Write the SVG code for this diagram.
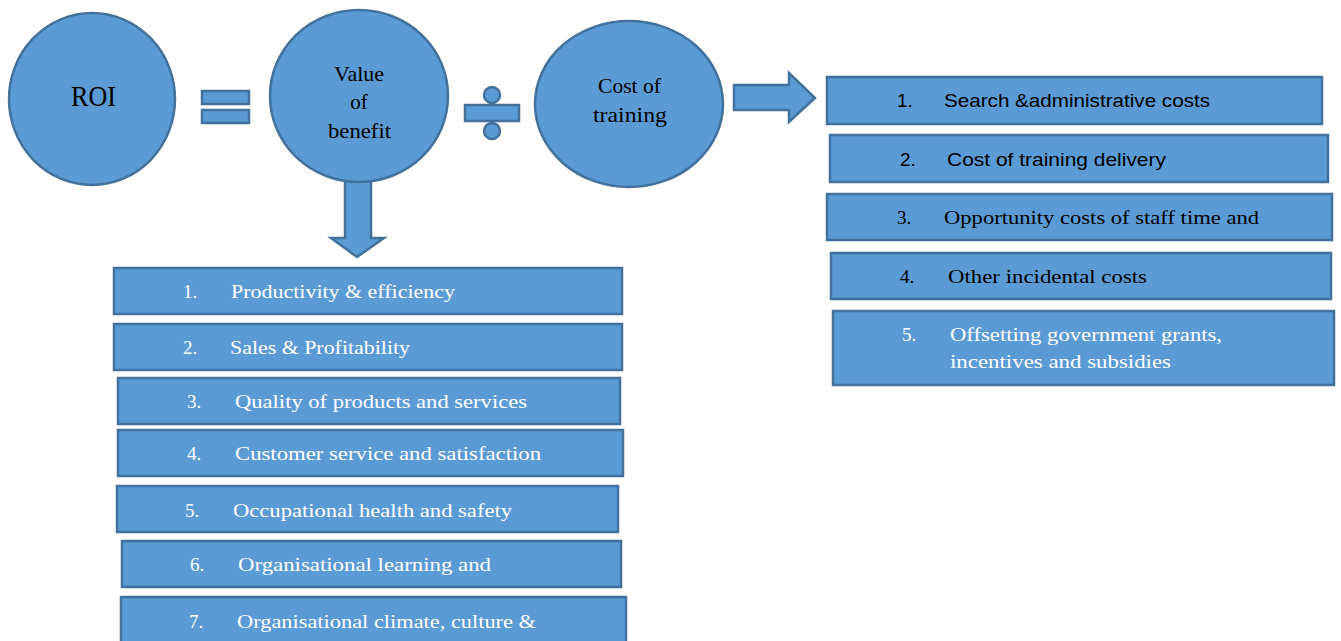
<svg xmlns="http://www.w3.org/2000/svg" width="1341" height="641" viewBox="0 0 1341 641">
<style>
.sh{fill:#5B9BD5;stroke:#41719C;stroke-width:2.5}
.t{font-family:"Liberation Serif","DejaVu Serif",serif;font-size:19px}
.w{fill:#ffffff}
.b{fill:#000000}
.c{font-family:"Liberation Sans Narrow","Liberation Sans",sans-serif;font-size:19px}
</style>
<rect width="1341" height="641" fill="#ffffff"/>
<g id="connectors">
<path class="sh" d="M345,170 L371,170 L371,238 L384,238 L357,257 L331,238 L345,238 Z"/>
<path class="sh" d="M734,85 L789,85 L789,73 L815,98 L789,122 L789,110 L734,110 Z"/>
</g>
<g id="roi">
<ellipse class="sh" cx="92" cy="99" rx="83" ry="86"/>
<text class="t b" x="71" y="106" style="font-size:29px" textLength="45" lengthAdjust="spacingAndGlyphs">ROI</text>
</g>
<g id="equals">
<rect class="sh" x="202" y="91" width="47" height="13"/>
<rect class="sh" x="202" y="110" width="47" height="13"/>
</g>
<g id="value">
<ellipse class="sh" cx="359" cy="96" rx="89" ry="86"/>
<text class="t b" x="334" y="81" style="font-size:21px" textLength="50" lengthAdjust="spacingAndGlyphs">Value</text>
<text class="t b" x="359" y="109" text-anchor="middle" style="font-size:21px">of</text>
<text class="t b" x="328" y="138" style="font-size:21px" textLength="63" lengthAdjust="spacingAndGlyphs">benefit</text>
</g>
<g id="divide">
<rect class="sh" x="465" y="105" width="54" height="16"/>
<circle class="sh" cx="492" cy="95" r="8"/>
<circle class="sh" cx="492" cy="131" r="8"/>
</g>
<g id="cost">
<ellipse class="sh" cx="629" cy="104" rx="94" ry="83"/>
<text class="t b" x="598" y="93" style="font-size:21px" textLength="63" lengthAdjust="spacingAndGlyphs">Cost of</text>
<text class="t b" x="593" y="122" style="font-size:21px" textLength="74" lengthAdjust="spacingAndGlyphs">training</text>
</g>
<g id="benefit1">
<rect class="sh" x="114" y="268" width="508" height="46"/>
<text class="t w" x="183" y="298">1.</text>
<text class="t w" x="231" y="298" textLength="224" lengthAdjust="spacingAndGlyphs">Productivity &amp; efficiency</text>
</g>
<g id="benefit2">
<rect class="sh" x="114" y="324" width="508" height="46"/>
<text class="t w" x="183" y="354">2.</text>
<text class="t w" x="230" y="354" textLength="180" lengthAdjust="spacingAndGlyphs">Sales &amp; Profitability</text>
</g>
<g id="benefit3">
<rect class="sh" x="118" y="378" width="502" height="46"/>
<text class="t w" x="187" y="408">3.</text>
<text class="t w" x="235" y="408" textLength="292" lengthAdjust="spacingAndGlyphs">Quality of products and services</text>
</g>
<g id="benefit4">
<rect class="sh" x="118" y="430" width="505" height="46"/>
<text class="t w" x="187" y="460">4.</text>
<text class="t w" x="235" y="460" textLength="306" lengthAdjust="spacingAndGlyphs">Customer service and satisfaction</text>
</g>
<g id="benefit5">
<rect class="sh" x="117" y="486" width="501" height="46"/>
<text class="t w" x="185" y="517">5.</text>
<text class="t w" x="233" y="517" textLength="279" lengthAdjust="spacingAndGlyphs">Occupational health and safety</text>
</g>
<g id="benefit6">
<rect class="sh" x="122" y="541" width="499" height="46"/>
<text class="t w" x="190" y="571">6.</text>
<text class="t w" x="238" y="571" textLength="253" lengthAdjust="spacingAndGlyphs">Organisational learning and</text>
</g>
<g id="benefit7">
<rect class="sh" x="121" y="597" width="505" height="50"/>
<text class="t w" x="189" y="628">7.</text>
<text class="t w" x="237" y="628" textLength="299" lengthAdjust="spacingAndGlyphs">Organisational climate, culture &amp;</text>
</g>
<g id="cost1">
<rect class="sh" x="827" y="77" width="495" height="47"/>
<text class="c b" x="897" y="107">1.</text>
<text class="c b" x="944" y="107" textLength="266" lengthAdjust="spacingAndGlyphs">Search &amp;administrative costs</text>
</g>
<g id="cost2">
<rect class="sh" x="830" y="135" width="498" height="47"/>
<text class="c b" x="900" y="166">2.</text>
<text class="c b" x="947" y="166" textLength="219" lengthAdjust="spacingAndGlyphs">Cost of training delivery</text>
</g>
<g id="cost3">
<rect class="sh" x="827" y="194" width="505" height="46"/>
<text class="t b" x="897" y="224">3.</text>
<text class="t b" x="944" y="224" textLength="315" lengthAdjust="spacingAndGlyphs">Opportunity costs of staff time and</text>
</g>
<g id="cost4">
<rect class="sh" x="831" y="253" width="500" height="46"/>
<text class="t b" x="900" y="283">4.</text>
<text class="t b" x="948" y="283" textLength="199" lengthAdjust="spacingAndGlyphs">Other incidental costs</text>
</g>
<g id="cost5">
<rect class="sh" x="833" y="311" width="501" height="74"/>
<text class="t w" x="902" y="341">5.</text>
<text class="t w" x="950" y="341" textLength="272" lengthAdjust="spacingAndGlyphs">Offsetting government grants,</text>
<text class="t w" x="950" y="368" textLength="221" lengthAdjust="spacingAndGlyphs">incentives and subsidies</text>
</g>
</svg>
